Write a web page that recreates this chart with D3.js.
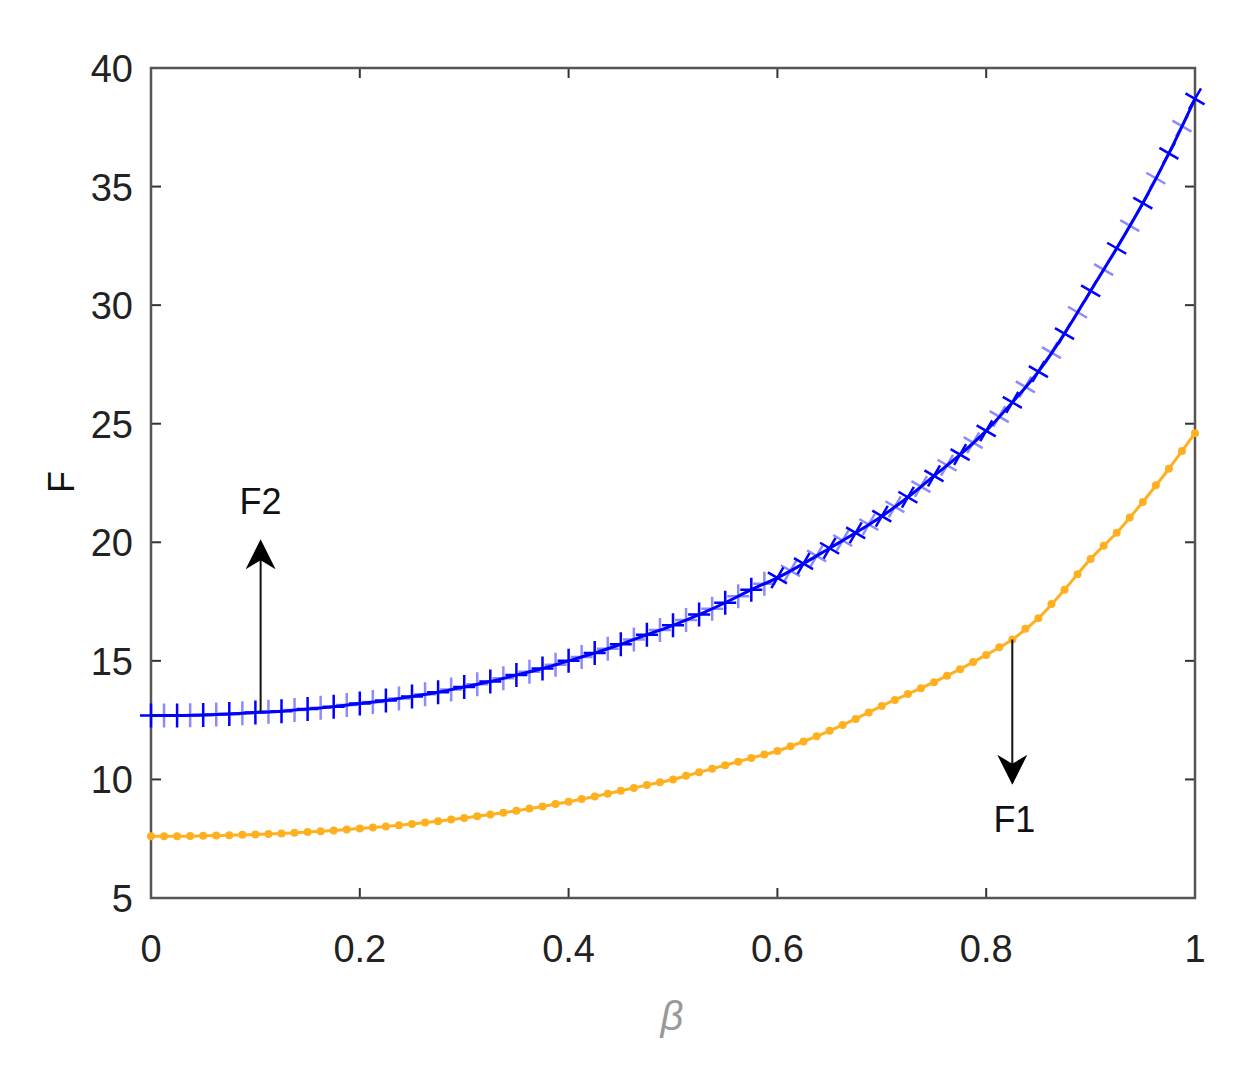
<!DOCTYPE html>
<html><head><meta charset="utf-8">
<script src="https://cdn.jsdelivr.net/npm/d3@7"></script>
<style>body{margin:0;background:#fff}text{font-family:"Liberation Sans",Arial,sans-serif}</style>
</head><body><svg id="c" width="1233" height="1074"></svg>
<script>
const beta = d3.range(41).map(i => i * 0.025);
const F2 = [12.70,12.70,12.72,12.76,12.82,12.88,12.97,13.07,13.2,13.33,13.5,13.68,13.9,14.13,14.4,14.68,15.0,15.33,15.7,16.1,16.5,16.95,17.45,18.0,18.5,19.1,19.75,20.4,21.1,21.9,22.8,23.7,24.7,25.9,27.2,28.8,30.6,32.4,34.3,36.4,38.7];
const F1 = [7.60,7.60,7.62,7.65,7.68,7.72,7.78,7.85,7.93,8.02,8.12,8.24,8.37,8.52,8.68,8.86,9.06,9.28,9.52,9.76,10.0,10.3,10.6,10.9,11.2,11.6,12.05,12.55,13.1,13.6,14.1,14.65,15.25,15.9,16.8,18.0,19.3,20.4,21.7,23.1,24.6];
const xTicks = [0,0.2,0.4,0.6,0.8,1];
const yTicks = [5,10,15,20,25,30,35,40];
const arrows = [{label:"F2", x:0.105, from:12.85, to:20.0, lx:0.105, ly:21.7},
                {label:"F1", x:0.825, from:15.9, to:9.9, lx:0.827, ly:8.3}];

const svg = d3.select("#c");
const L=151,R=1195,T=68,B=898;
const x = d3.scaleLinear().domain([0,1]).range([L,R]);
const y = d3.scaleLinear().domain([5,40]).range([B,T]);
const fs = 38;
const g = svg.append("g");
xTicks.forEach(t=>{
  g.append("line").attr("x1",x(t)).attr("x2",x(t)).attr("y1",B).attr("y2",B-10).attr("stroke","#333").attr("stroke-width",2);
  g.append("line").attr("x1",x(t)).attr("x2",x(t)).attr("y1",T).attr("y2",T+10).attr("stroke","#333").attr("stroke-width",2);
  g.append("text").attr("x",x(t)).attr("y",B+64).attr("text-anchor","middle").attr("font-size",fs).attr("fill","#222").text(t);
});
yTicks.forEach(t=>{
  g.append("line").attr("x1",L).attr("x2",L+10).attr("y1",y(t)).attr("y2",y(t)).attr("stroke","#333").attr("stroke-width",2);
  g.append("line").attr("x1",R).attr("x2",R-10).attr("y1",y(t)).attr("y2",y(t)).attr("stroke","#333").attr("stroke-width",2);
  g.append("text").attr("x",L-18).attr("y",y(t)+14).attr("text-anchor","end").attr("font-size",fs).attr("fill","#222").text(t);
});
g.append("rect").attr("x",L).attr("y",T).attr("width",R-L).attr("height",B-T).attr("fill","none").attr("stroke","#555").attr("stroke-width",2.5);
svg.append("text").attr("transform","translate(74,482) rotate(-90)").attr("text-anchor","middle").attr("font-size",36).attr("fill","#111").text("F");
svg.append("text").attr("x",672).attr("y",1030).attr("text-anchor","middle").attr("font-size",40).attr("font-style","italic").attr("font-family","DejaVu Serif").attr("fill","#999").text("β");

const line = d3.line().x((d,i)=>x(beta[i])).y(d=>y(d)).curve(d3.curveMonotoneX);
svg.append("path").datum(F1).attr("d",line).attr("fill","none").attr("stroke","#ffb020").attr("stroke-width",3);
svg.append("path").datum(F2).attr("d",line).attr("fill","none").attr("stroke","#0000ff").attr("stroke-width",3);
const dots = [];
F1.forEach((v,i)=>{dots.push([beta[i],v]); if(i<F1.length-1){dots.push([(beta[i]+beta[i+1])/2,(v+F1[i+1])/2]);}});
svg.selectAll(".dot").data(dots).join("circle").attr("cx",d=>x(d[0])).attr("cy",d=>y(d[1])).attr("r",4).attr("fill","#ffb020");
const plus = [];
F2.forEach((v,i)=>{plus.push([beta[i],v,1]); if(i<F2.length-1){plus.push([(beta[i]+beta[i+1])/2,(v+F2[i+1])/2,0.45]);}});
svg.selectAll(".pl").data(plus).join("path").attr("transform",d=>`translate(${x(d[0])},${y(d[1])})${d[0]>0.6?" rotate(30)":""}`)
  .attr("d","M-11,0H11M0,-12V12").attr("stroke","#0000ff").attr("stroke-width",2.5).attr("opacity",d=>d[2]);

svg.append("defs").append("marker").attr("id","ah").attr("viewBox","0 0 10 10").attr("refX",9).attr("refY",5)
  .attr("markerWidth",30).attr("markerHeight",40).attr("orient","auto").attr("markerUnits","userSpaceOnUse")
  .append("path").attr("d","M0,0L10,5L0,10L3,5Z").attr("fill","#000");
arrows.forEach(a=>{
  svg.append("line").attr("x1",x(a.x)).attr("x2",x(a.x)).attr("y1",y(a.from)).attr("y2",y(a.to)).attr("stroke","#111").attr("stroke-width",2).attr("marker-end","url(#ah)");
  svg.append("text").attr("x",x(a.lx)).attr("y",y(a.ly)+12).attr("text-anchor","middle").attr("font-size",36).attr("fill","#111").text(a.label);
});
</script></body></html>
